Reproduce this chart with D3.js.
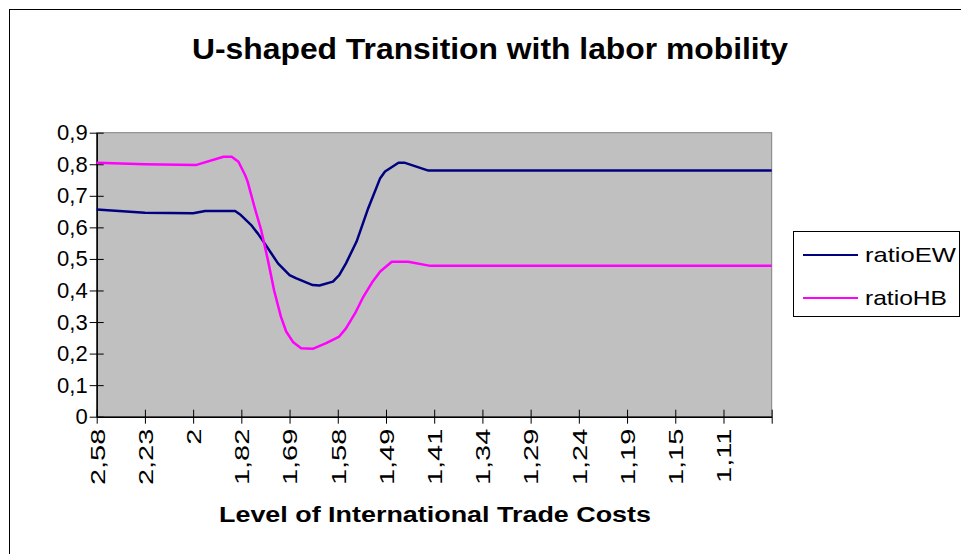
<!DOCTYPE html>
<html>
<head>
<meta charset="utf-8">
<script src="https://cdn.jsdelivr.net/npm/d3@7"></script>
<style>
  body { margin: 0; background: #fff; }
  svg { display: block; font-family: "Liberation Sans", Arial, sans-serif; }
</style>
</head>
<body>
<div id="chart"></div>
<script>
// Chart data.
// x positions are in units of the labelled tick marks (0 = "2,58")
const xTickLabels = ["2,58", "2,23", "2", "1,82", "1,69", "1,58", "1,49",
                     "1,41", "1,34", "1,29", "1,24", "1,19", "1,15", "1,11", ""];
const yTicks = [0, 0.1, 0.2, 0.3, 0.4, 0.5, 0.6, 0.7, 0.8, 0.9];

const ewX = [0, 1, 2, 2.25, 2.87, 2.99, 3.2, 3.34, 3.48, 3.62, 3.76, 4.0, 4.13,
             4.48, 4.62, 4.9, 5.03, 5.17, 5.39, 5.63, 5.88, 5.98, 6.26, 6.38, 6.88, 14];
const ewY = [0.657, 0.646, 0.645, 0.652, 0.652, 0.639, 0.608, 0.581, 0.55, 0.518, 0.486, 0.449, 0.439,
             0.417, 0.416, 0.428, 0.449, 0.486, 0.555, 0.66, 0.756, 0.777, 0.805, 0.805, 0.78, 0.78];

const hbX = [0, 1, 2.07, 2.63, 2.8, 2.94, 3.08, 3.13, 3.27, 3.41, 3.55, 3.68, 3.82, 3.93,
             4.07, 4.24, 4.48, 4.76, 5.03, 5.17, 5.36, 5.53, 5.71, 5.88, 6.12, 6.46, 6.92, 14];
const hbY = [0.805, 0.8, 0.798, 0.824, 0.824, 0.808, 0.765, 0.745, 0.666, 0.592, 0.497, 0.4, 0.317, 0.27,
             0.237, 0.217, 0.215, 0.233, 0.254, 0.28, 0.328, 0.38, 0.425, 0.46, 0.491, 0.491, 0.478, 0.478];

const seriesNames = ["ratioEW", "ratioHB"];
const seriesColors = ["#000080", "#ff00ff"];
const legendTextWidth = [91, 82];

const width = 961;
const height = 554;
const plot = {left: 96.7, right: 771.7, top: 132.7, bottom: 416.7};

const svg = d3.select("#chart")
  .append("svg")
  .attr("width", width)
  .attr("height", height);

// outer chart border
svg.append("rect")
  .attr("x", 9.5).attr("y", 9.5)
  .attr("width", width).attr("height", height)
  .attr("fill", "#fff")
  .attr("stroke", "#000");

// title
svg.append("text")
  .attr("x", 490).attr("y", 59)
  .attr("text-anchor", "middle")
  .attr("font-size", "29px")
  .attr("font-weight", "bold")
  .attr("textLength", 596)
  .attr("lengthAdjust", "spacingAndGlyphs")
  .text("U-shaped Transition with labor mobility");

// scales
const x = d3.scaleLinear()
  .domain([0, xTickLabels.length - 1])
  .range([plot.left, plot.right]);

const y = d3.scaleLinear()
  .domain([0, 0.9])
  .range([plot.bottom, plot.top]);

// plot area
svg.append("rect")
  .attr("x", plot.left).attr("y", plot.top)
  .attr("width", plot.right - plot.left)
  .attr("height", plot.bottom - plot.top)
  .attr("fill", "#c0c0c0")
  .attr("stroke", "#808080");

// y axis
const yAxis = svg.append("g")
  .attr("transform", `translate(${plot.left},0)`)
  .call(d3.axisLeft(y)
    .tickValues(yTicks)
    .tickSizeOuter(0)
    .tickFormat(d => d3.format(".1~f")(d).replace(".", ",")));
yAxis.selectAll(".tick line").attr("x1", -7).attr("x2", 7).attr("stroke", "#000");
yAxis.selectAll(".tick text")
  .attr("x", -9)
  .attr("font-size", "22px")
  .attr("font-family", "Liberation Sans, Arial, sans-serif");
yAxis.select(".domain").attr("stroke", "#000").attr("stroke-width", 1.5);

// x axis
const xAxis = svg.append("g")
  .attr("transform", `translate(0,${plot.bottom})`)
  .call(d3.axisBottom(x)
    .tickValues(d3.range(xTickLabels.length))
    .tickSizeOuter(0)
    .tickFormat(i => xTickLabels[i]));
xAxis.selectAll(".tick line").attr("y1", -7).attr("y2", 7).attr("stroke", "#000");
xAxis.selectAll(".tick text")
  .attr("font-size", "21px")
  .attr("font-family", "Liberation Sans, Arial, sans-serif")
  .attr("text-anchor", "end")
  .attr("x", 0).attr("y", 0).attr("dy", "0.35em")
  .attr("transform", "translate(0,12) rotate(-90) scale(1.38,1)");
xAxis.select(".domain").attr("stroke", "#000").attr("stroke-width", 1.5);

// x axis title
svg.append("text")
  .attr("x", 435).attr("y", 522)
  .attr("text-anchor", "middle")
  .attr("font-size", "22px")
  .attr("font-weight", "bold")
  .attr("textLength", 432)
  .attr("lengthAdjust", "spacingAndGlyphs")
  .text("Level of International Trade Costs");

// lines
const line = d3.line()
  .x(d => x(d[0]))
  .y(d => y(d[1]));

const seriesData = [d3.zip(ewX, ewY), d3.zip(hbX, hbY)];

svg.selectAll(".series")
  .data(seriesData)
  .enter()
  .append("path")
    .attr("class", "series")
    .attr("d", line)
    .attr("fill", "none")
    .attr("stroke", (d, i) => seriesColors[i])
    .attr("stroke-width", 2.5)
    .attr("stroke-linejoin", "round");

// legend
const legend = svg.append("g");
legend.append("rect")
  .attr("x", 793.5).attr("y", 231.5)
  .attr("width", 166).attr("height", 85)
  .attr("fill", "#fff")
  .attr("stroke", "#000");

const items = legend.selectAll(".item")
  .data(seriesNames)
  .enter()
  .append("g")
    .attr("class", "item")
    .attr("transform", (d, i) => `translate(0,${255 + i * 43})`);

items.append("line")
  .attr("x1", 803).attr("x2", 858)
  .attr("stroke", (d, i) => seriesColors[i])
  .attr("stroke-width", 2);

items.append("text")
  .attr("x", 865).attr("dy", "0.35em")
  .attr("font-size", "21px")
  .attr("textLength", (d, i) => legendTextWidth[i])
  .attr("lengthAdjust", "spacingAndGlyphs")
  .text(d => d);
</script>
</body>
</html>
